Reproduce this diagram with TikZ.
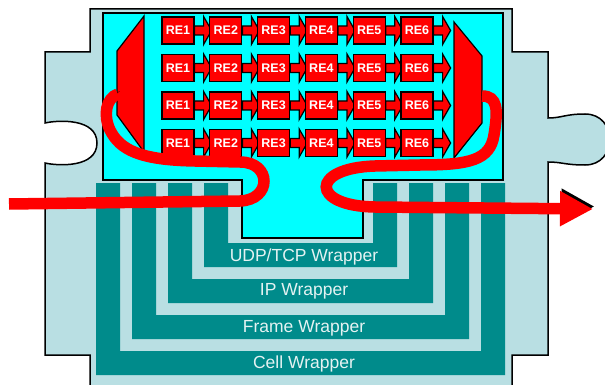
\documentclass[tikz,border=0pt]{standalone}
\usepackage{fontspec}
\setmainfont{Liberation Sans}
\usetikzlibrary{arrows.meta}
\definecolor{pieceblue}{RGB}{185,223,227}
\definecolor{slotcyan}{RGB}{0,255,255}
\definecolor{wrapteal}{RGB}{0,139,139}
\definecolor{wraptext}{RGB}{228,242,242}
\begin{document}
\begin{tikzpicture}[x=1pt, y=-1pt,
    piece/.style={fill=pieceblue, draw=black, line width=1.5pt},
    slot/.style={fill=slotcyan, draw=black, line width=1.5pt},
    wrapper/.style={fill=wrapteal},
    wraplabel/.style={anchor=base, text=wraptext, font=\fontsize{17.5}{18}\selectfont},
    rebox/.style={rectangle, draw=black, fill=red, line width=1.2pt, minimum width=32pt, minimum height=27pt, inner sep=0pt, text=white, font=\bfseries\fontsize{12.5}{13}\selectfont},
    reflow/.style={fill=red, draw=black, line width=1.2pt},
    mux/.style={fill=red, draw=black, line width=1.2pt},
    flow/.style={draw=red, line width=11.5pt, preaction={draw=black, transform canvas={xshift=1.5pt, yshift=2.5pt}}}
]
\useasboundingbox (0,0) rectangle (605,385);
\clip (0,0) rectangle (605,385);

% Puzzle piece
\draw[piece] (90,390) -- (90,355) -- (45,355) -- (45,163)
    .. controls (58,166) and (97,168) .. (97,143)
    .. controls (97,118) and (58,120) .. (45,123)
    -- (45,52) -- (90,52) -- (90,9) -- (512,9) -- (512,52) -- (548,52) -- (548,118)
    .. controls (562,118) and (565,114) .. (585,114)
    .. controls (618,114) and (618,165) .. (585,165)
    .. controls (565,165) and (562,162) .. (548,162)
    -- (548,355) -- (512,355) -- (512,390);

% Wrappers
\foreach \k in {0,...,3} {
  \fill[wrapper] ({204-36*\k},183) -- ({204-36*\k},{267+36*\k}) -- ({397+36*\k},{267+36*\k})
      -- ({397+36*\k},183) -- ({373+36*\k},183) -- ({373+36*\k},{243+36*\k})
      -- ({228-36*\k},{243+36*\k}) -- ({228-36*\k},183) -- cycle;
}
\node[wraplabel] (udp) at (304,261) {UDP/TCP Wrapper};
\node[wraplabel] (ip) at (304,295) {IP Wrapper};
\node[wraplabel] (frame) at (304,332) {Frame Wrapper};
\node[wraplabel] (cell) at (304,368) {Cell Wrapper};

% Application slot
\draw[slot] (103,13) -- (503,13) -- (503,180) -- (363,180) -- (363,238)
    -- (242,238) -- (242,180) -- (103,180) -- cycle;

% Processing elements
\foreach \r in {1,...,4} {
  \foreach \c in {1,...,6} {
    \node[rebox] (re\r\c) at ({178+47.8*(\c-1)}, {30.5+37.5*(\r-1)}) {RE\c};
    \draw[reflow] (re\r\c.east) ++(0,-4.5) -- ++(9,0) -- ++(0,-9.5) -- ++(8,14)
        -- ++(-8,14) -- ++(0,-9.5) -- ++(-9,0) -- cycle;
  }
}

% Demux and mux
\draw[mux] (144,16) -- (144,152) -- (117,115) -- (117,51) -- cycle;
\draw[mux] (454,22) -- (482,56) -- (482,123) -- (454,158) -- cycle;
\coordinate (flowin) at (9,204);
\coordinate (demuxin) at (118,94);
\coordinate (muxout) at (482,96);
\coordinate (flowout) at (593,209);

% Packet flow
\draw[flow] (flowin) -- (240,201) .. controls (272,200) and (272,162) .. (240,162)
    -- (195,161) .. controls (140,160) and (120,150) .. (110,130)
    .. controls (103,115) and (106,98) .. (demuxin);
\draw[flow, -{Triangle[length=33pt, width=33pt]}] (muxout) .. controls (498,96) and (498,110) .. (494,135)
    .. controls (490,160) and (470,165) .. (420,165) -- (375,166)
    .. controls (310,168) and (310,206) .. (375,207) -- (flowout);
\end{tikzpicture}
\end{document}
